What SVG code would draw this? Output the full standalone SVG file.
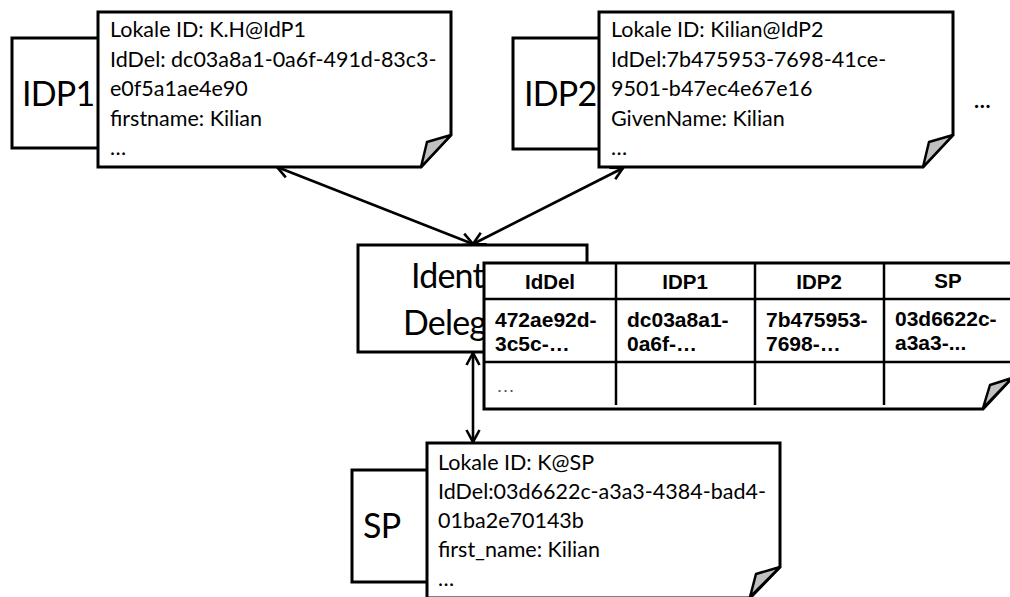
<svg xmlns="http://www.w3.org/2000/svg" width="1010" height="597" viewBox="0 0 1010 597">
<defs>
<marker id="ah" markerUnits="userSpaceOnUse" markerWidth="18" markerHeight="18" viewBox="0 0 18 18" refX="15" refY="9" orient="auto-start-reverse">
<path d="M3,2.5 L15,9 L3,15.5" fill="none" stroke="#000" stroke-width="2.6" stroke-linejoin="miter"/>
</marker>
</defs>
<style>
.box{fill:#fff;stroke:#000;stroke-width:3}
.note{fill:#fff;stroke:#000;stroke-width:3;stroke-linejoin:miter}
.fold{fill:#c0c0c0;stroke:#000;stroke-width:2.5;stroke-linejoin:round}
.big{font-family:Lato,"Liberation Sans",sans-serif;font-size:34px;letter-spacing:-0.8px;fill:#000}
.nt{font-family:Lato,"Liberation Sans",sans-serif;font-size:21.5px;fill:#000}
.th{font-family:"Liberation Sans",Arial,sans-serif;font-weight:bold;font-size:20.5px;fill:#000;text-anchor:middle}
.td{font-family:"Liberation Sans",Arial,sans-serif;font-weight:bold;font-size:21px;fill:#000}
.grid{stroke:#000;stroke-width:2.5;fill:none}
.conn{stroke:#000;stroke-width:2.6;fill:none;marker-start:url(#ah);marker-end:url(#ah)}
</style>
<rect width="1010" height="597" fill="#fff"/>

<g id="connectors">
<line class="conn" x1="277" y1="167" x2="473" y2="244"/>
<line class="conn" x1="623" y1="168" x2="473" y2="244"/>
<line class="conn" x1="473" y1="353" x2="473" y2="442"/>
</g>

<g id="idp1">
<rect class="box" x="12" y="38" width="120" height="110"/>
<text class="big" x="22" y="106">IDP1</text>
<path class="note" d="M98,12 H451 V135 L421,167 H98 Z"/>
<path class="fold" d="M451,135 L421,167 L427,142 Z"/>
<text class="nt" x="110" y="37">Lokale ID: K.H@IdP1</text>
<text class="nt" x="110" y="67">IdDel: dc03a8a1-0a6f-491d-83c3-</text>
<text class="nt" x="110" y="96">e0f5a1ae4e90</text>
<text class="nt" x="110" y="126">firstname: Kilian</text>
<text class="nt" x="110" y="155">…</text>
</g>

<g id="idp2">
<rect class="box" x="513" y="38" width="120" height="111"/>
<text class="big" x="524" y="106">IDP2</text>
<path class="note" d="M599,12 H953 V135 L923,167 H599 Z"/>
<path class="fold" d="M953,135 L923,167 L929,142 Z"/>
<text class="nt" x="611" y="37">Lokale ID: Kilian@IdP2</text>
<text class="nt" x="611" y="67">IdDel:7b475953-7698-41ce-</text>
<text class="nt" x="611" y="96">9501-b47ec4e67e16</text>
<text class="nt" x="611" y="126">GivenName: Kilian</text>
<text class="nt" x="611" y="155">…</text>
</g>

<g id="more">
<text class="nt" x="974" y="108" font-weight="bold">…</text>
</g>

<g id="identity-delegation">
<rect class="box" x="358" y="245" width="229" height="107"/>
<text class="big" x="411" y="288">Ident</text>
<text class="big" x="403" y="335">Deleg</text>
</g>

<g id="table">
<path class="note" d="M484,263 H1012 V378 L983,409 H484 Z"/>
<path class="fold" d="M1012,378 L983,408 L990,385 Z"/>
<line class="grid" x1="484" y1="299" x2="1012" y2="299"/>
<line class="grid" x1="484" y1="362" x2="1012" y2="362"/>
<line class="grid" x1="616" y1="263" x2="616" y2="405"/>
<line class="grid" x1="755" y1="263" x2="755" y2="405"/>
<line class="grid" x1="884" y1="263" x2="884" y2="405"/>
<text class="th" x="550" y="289">IdDel</text>
<text class="th" x="685" y="289">IDP1</text>
<text class="th" x="819" y="289">IDP2</text>
<text class="th" x="948" y="288" font-size="17">SP</text>
<text class="td" x="495" y="327">472ae92d-</text>
<text class="td" x="495" y="351">3c5c-…</text>
<text class="td" x="627" y="327">dc03a8a1-</text>
<text class="td" x="627" y="351">0a6f-…</text>
<text class="td" x="766" y="327">7b475953-</text>
<text class="td" x="766" y="351">7698-…</text>
<text class="td" x="895" y="326" font-size="18.5">03d6622c-</text>
<text class="td" x="895" y="350" font-size="18.5">a3a3-...</text>
<text x="496" y="392" font-family="'Liberation Sans',Arial,sans-serif" font-size="19" fill="#555">…</text>
</g>

<g id="sp">
<rect class="box" x="352" y="470" width="110" height="112"/>
<text class="big" x="363" y="538">SP</text>
<path class="note" d="M427,443 H780 V567 L750,598 H427 Z"/>
<path class="fold" d="M780,567 L750,597 L756,574 Z"/>
<text class="nt" x="438" y="470">Lokale ID: K@SP</text>
<text class="nt" x="438" y="499">IdDel:03d6622c-a3a3-4384-bad4-</text>
<text class="nt" x="438" y="528">01ba2e70143b</text>
<text class="nt" x="438" y="557">first_name: Kilian</text>
<text class="nt" x="438" y="586">…</text>
</g>
</svg>
